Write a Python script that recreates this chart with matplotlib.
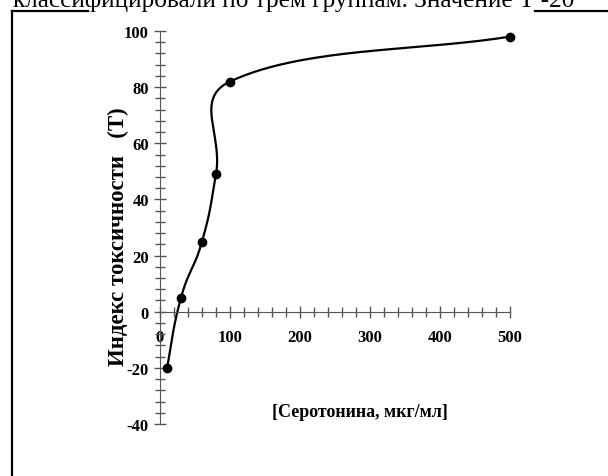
import numpy as np
import matplotlib.pyplot as plt
from matplotlib.ticker import MultipleLocator
from matplotlib.lines import Line2D

# data
serotonin = [10, 30, 60, 80, 100, 500]
tox_index = [-20, 5, 25, 49, 82, 98]
x_ticks = [0, 100, 200, 300, 400, 500]
y_ticks = [-40, -20, 0, 20, 40, 60, 80, 100]

plt.rcParams['font.family'] = ['Liberation Serif', 'DejaVu Serif']
plt.rcParams['axes.unicode_minus'] = False

W, H = 608, 477
fig = plt.figure(figsize=(W / 100, H / 100), dpi=100)

# axes box in pixels: x 160..510, y 32..425
ax = fig.add_axes([160 / W, (H - 425) / H, 350 / W, 393 / H])
ax.set_xlim(0, 500)
ax.set_ylim(-40, 100)
ax.patch.set_alpha(0)

for s in ['top', 'right']:
    ax.spines[s].set_visible(False)
ax.spines['bottom'].set_position(('data', 0))
ax.spines['left'].set_color('#555555')
ax.spines['bottom'].set_color('#555555')

ax.set_xticks(x_ticks)
ax.set_yticks(y_ticks)
ax.xaxis.set_minor_locator(MultipleLocator(20))
ax.yaxis.set_minor_locator(MultipleLocator(4))
ax.tick_params(which='major', direction='inout', length=9, width=1, color='#555555')
ax.tick_params(which='minor', direction='inout', length=7, width=1, color='#555555')
ax.tick_params(axis='x', pad=8)
ax.tick_params(axis='y', pad=3.5)
for lab in ax.get_xticklabels() + ax.get_yticklabels():
    lab.set_fontweight('bold')
    lab.set_fontsize(12)


def smooth(xs, ys, n=60, k=0.5):
    # excel-like smoothed line, built in pixel space
    P = ax.transData.transform(np.column_stack([xs, ys]))
    out = []
    for i in range(len(P) - 1):
        p1, p2 = P[i], P[i + 1]
        d12 = np.hypot(*(p2 - p1))
        if i == 0:
            c1 = p1 + (p2 - p1) / 3
        else:
            p0 = P[i - 1]
            d01 = np.hypot(*(p1 - p0))
            c1 = p1 + (p2 - p0) * k * min(d12 / (d01 + d12), 0.5)
        if i == len(P) - 2:
            c2 = p2 - (p2 - p1) / 3
        else:
            p3 = P[i + 2]
            d23 = np.hypot(*(p3 - p2))
            c2 = p2 - (p3 - p1) * k * min(d12 / (d12 + d23), 0.5)
        t = np.linspace(0, 1, n)[:, None]
        seg = ((1 - t) ** 3) * p1 + 3 * ((1 - t) ** 2) * t * c1 + 3 * (1 - t) * t ** 2 * c2 + t ** 3 * p2
        out.append(seg)
    out = np.vstack(out)
    return ax.transData.inverted().transform(out)


curve = smooth(serotonin, tox_index)
ax.plot(curve[:, 0], curve[:, 1], color='black', lw=1.6, clip_on=False)
ax.plot(serotonin, tox_index, 'o', color='black', markersize=6, clip_on=False)

fig.text(118 / W, 1 - 237 / H, 'Индекс токсичности   (Т)', rotation=90,
         ha='center', va='center', fontsize=16.5, fontweight='bold')
fig.text(360 / W, 1 - 413 / H, '[Серотонина, мкг/мл]',
         ha='center', va='center', fontsize=13, fontweight='bold')

# page fragment around the figure
fig.text(13 / W, 1 - 7 / H, 'классифицировали по трем группам. Значение Т -20',
         ha='left', va='baseline', fontsize=18.2)
fig.add_artist(Line2D([11.5 / W, 11.5 / W], [0, 1 - 11.5 / H], transform=fig.transFigure,
                      color='black', lw=1.6))
fig.add_artist(Line2D([11.5 / W, 88 / W], [1 - 11.5 / H, 1 - 11.5 / H], transform=fig.transFigure,
                      color='black', lw=1.6))
fig.add_artist(Line2D([535 / W, 1], [1 - 11.5 / H, 1 - 11.5 / H], transform=fig.transFigure,
                      color='black', lw=1.6))

plt.savefig('out.png', dpi=100)
